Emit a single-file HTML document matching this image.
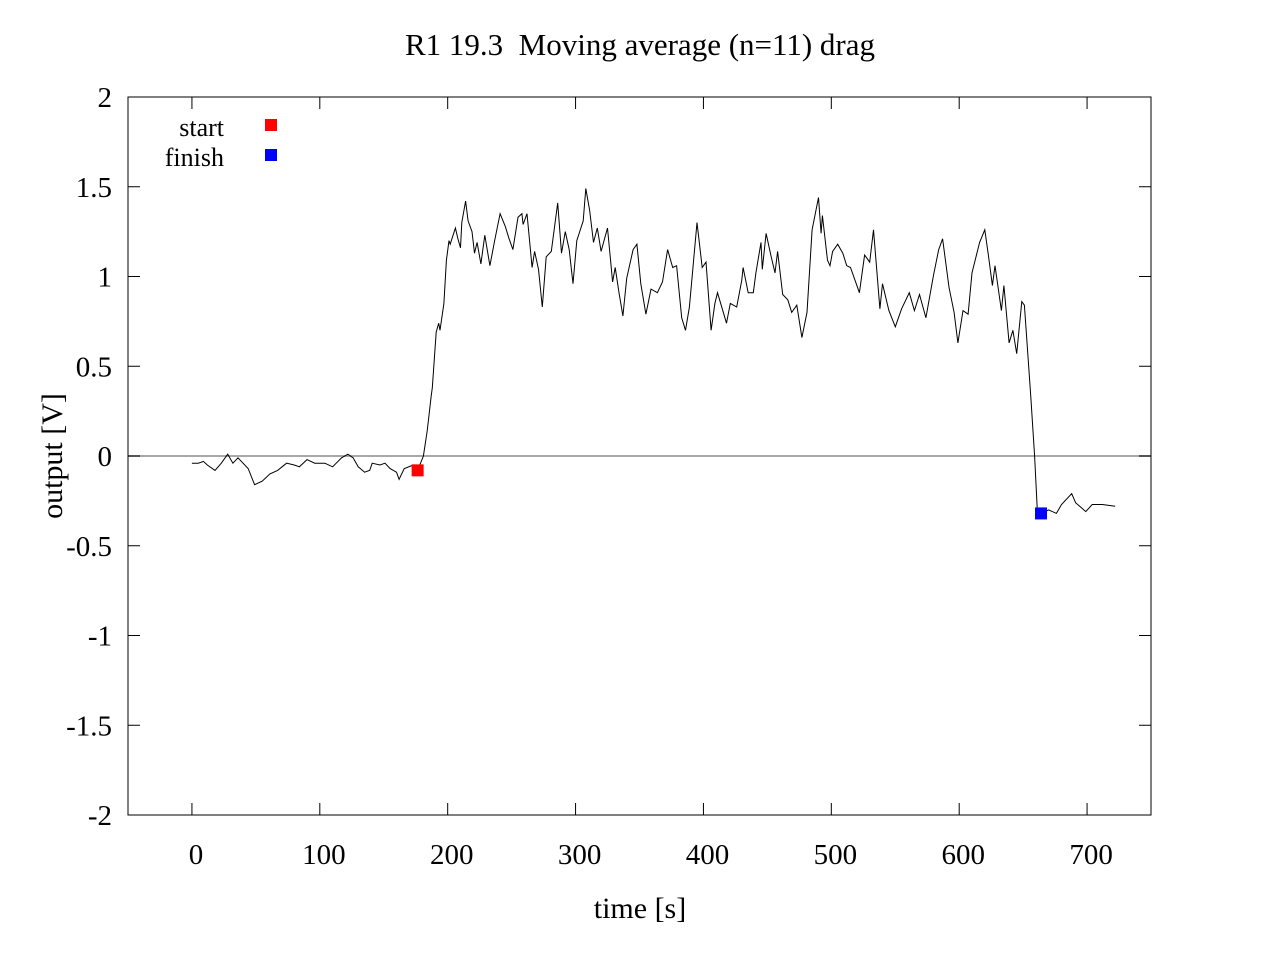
<!DOCTYPE html>
<html><head><meta charset="utf-8"><style>
html,body{margin:0;padding:0;background:#fff;}
svg text{font-family:"Liberation Serif",serif;fill:#000;}
</style></head><body>
<svg id="chart" width="1280" height="960" xmlns="http://www.w3.org/2000/svg">
<rect width="1280" height="960" fill="#fff"/>
<text x="640" y="55" font-size="31" text-anchor="middle">R1 19.3&#160; Moving average (n=11) drag</text>
<g id="axes"></g>
<g id="plot"></g>
<text x="640" y="918" font-size="30" text-anchor="middle">time [s]</text>
<text transform="translate(62,456) rotate(-90)" font-size="30" text-anchor="middle">output [V]</text>
<g>
<text x="224" y="136" font-size="26" text-anchor="end">start</text>
<rect x="265" y="119" width="12" height="12" fill="#f00"/>
<text x="224" y="166" font-size="26" text-anchor="end">finish</text>
<rect x="265" y="149" width="12" height="12" fill="#00f"/>
</g>
</svg>
<script>
const times=[0,5,9,12,18,23,28,32,36,44,49,55,61,67,74,80,84,90,96,104,110,117,122,126,130,135,139,141,147,151,155,160,162,166,173,176.5,181,184,187,188,191,193,194,197,199,201,202,206,208,210,211,214,216,219,221,223,226,229,233,237,241,245,248,251,255,258,259,262,266,268,271,274,277,281,286,289,292,295,298,301,306,308,311,314,317,320,325,329,331,334,337,340,345,348,351,355,359,364,368,372,376,379,383,386,389,395,399,402,406,409,411,418,421,426,430,431,435,439,441,445,446,449,453,456,458,462,466,469,473,477,481,485,490,492,493,497,499,501,505,509,512,515,522,526,530,533,538,540,545,550,555,561,565,569,574,580,584,587,592,596,599,603,607,610,616,620,623,626,628,633,635,639,642,645,649,651,656,659,661,664,670,676,680,688,691,699,704,712,722];
const values=[-0.04,-0.04,-0.03,-0.05,-0.08,-0.04,0.01,-0.04,-0.01,-0.07,-0.16,-0.14,-0.10,-0.08,-0.04,-0.05,-0.06,-0.02,-0.04,-0.04,-0.06,-0.01,0.01,-0.01,-0.06,-0.09,-0.08,-0.04,-0.05,-0.04,-0.07,-0.09,-0.13,-0.07,-0.05,-0.08,0.0,0.14,0.33,0.38,0.69,0.74,0.70,0.85,1.09,1.20,1.18,1.27,1.21,1.16,1.30,1.42,1.31,1.25,1.13,1.19,1.07,1.23,1.06,1.21,1.35,1.28,1.21,1.15,1.33,1.35,1.29,1.35,1.05,1.14,1.04,0.83,1.11,1.14,1.41,1.13,1.25,1.15,0.96,1.20,1.31,1.49,1.37,1.19,1.27,1.14,1.27,0.97,1.05,0.91,0.78,0.99,1.15,1.18,0.96,0.79,0.93,0.91,0.97,1.15,1.05,1.06,0.77,0.70,0.83,1.30,1.05,1.08,0.70,0.85,0.91,0.74,0.85,0.83,0.98,1.05,0.91,0.91,1.02,1.19,1.04,1.24,1.11,1.02,1.14,0.90,0.87,0.80,0.84,0.66,0.80,1.26,1.44,1.24,1.34,1.09,1.06,1.14,1.18,1.13,1.06,1.05,0.91,1.12,1.08,1.26,0.82,0.96,0.81,0.72,0.82,0.91,0.81,0.90,0.77,1.01,1.15,1.21,0.94,0.80,0.63,0.81,0.79,1.02,1.19,1.26,1.11,0.95,1.06,0.81,0.95,0.63,0.70,0.57,0.86,0.84,0.33,0.00,-0.29,-0.32,-0.30,-0.32,-0.27,-0.21,-0.26,-0.31,-0.27,-0.27,-0.28];
const startPoint=[176.5,-0.08];
const finishPoint=[664,-0.32];
const xTicks=[0,100,200,300,400,500,600,700];
const yTicks=[2,1.5,1,0.5,0,-0.5,-1,-1.5,-2];
const X0=128,X1=1151,Y0=97,Y1=815,XMIN=-50,XMAX=750,YMIN=-2,YMAX=2;
const sx=t=>X0+(t-XMIN)/(XMAX-XMIN)*(X1-X0);
const sy=v=>Y1-(v-YMIN)/(YMAX-YMIN)*(Y1-Y0);
const NS="http://www.w3.org/2000/svg";
const axes=document.getElementById('axes'),plot=document.getElementById('plot');
function mk(tag,attrs,parent){const e=document.createElementNS(NS,tag);for(const k in attrs)e.setAttribute(k,attrs[k]);parent.appendChild(e);return e;}
const zl=mk('line',{x1:X0,x2:X1,y1:sy(0),y2:sy(0),stroke:'#a8a8a8','stroke-width':2},axes);


const fr=mk('rect',{x:X0,y:Y0,width:X1-X0,height:Y1-Y0,fill:'none',stroke:'#000','stroke-width':1},axes);


xTicks.forEach(t=>{const x=sx(t);
 mk('line',{x1:x,x2:x,y1:Y1,y2:Y1-12,stroke:'#000'},axes);
 mk('line',{x1:x,x2:x,y1:Y0,y2:Y0+12,stroke:'#000'},axes);
 const tx=mk('text',{x:x+4,y:864,'font-size':29,'text-anchor':'middle'},axes);tx.textContent=t;
 
 });
yTicks.forEach(v=>{const y=sy(v);
 mk('line',{x1:X0,x2:X0+12,y1:y,y2:y,stroke:'#000'},axes);
 mk('line',{x1:X1,x2:X1-12,y1:y,y2:y,stroke:'#000'},axes);
 const tx=mk('text',{x:112,y:y+10,'font-size':29,'text-anchor':'end'},axes);tx.textContent=v;
 
 });
const d=times.map((t,i)=>(i?'L':'M')+sx(t).toFixed(1)+','+sy(values[i]).toFixed(1)).join('');
const ln=mk('path',{d:d,fill:'none',stroke:'#000','stroke-width':1},plot);


const sm=mk('rect',{x:sx(startPoint[0])-6,y:sy(startPoint[1])-6,width:12,height:12,fill:'#f00'},plot);


const fm=mk('rect',{x:sx(finishPoint[0])-6,y:sy(finishPoint[1])-6,width:12,height:12,fill:'#00f'},plot);


</script>
</body></html>
